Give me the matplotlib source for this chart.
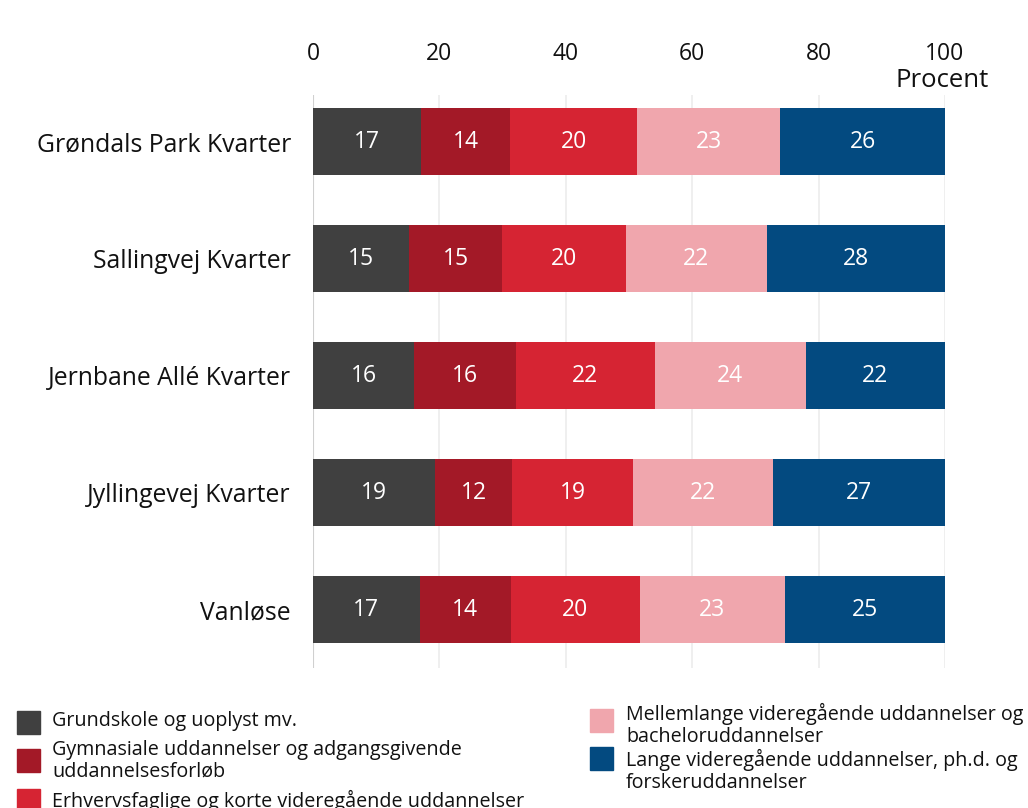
import matplotlib
matplotlib.use("Agg")
import matplotlib.pyplot as plt
from matplotlib.patches import Rectangle
import numpy as np

plt.rcParams['font.family'] = ['Open Sans', 'DejaVu Sans']

categories = ["Grøndals Park Kvarter", "Sallingvej Kvarter", "Jernbane Allé Kvarter",
              "Jyllingevej Kvarter", "Vanløse"]
series_names = ["Grundskole og uoplyst mv.",
                "Gymnasiale uddannelser og adgangsgivende\nuddannelsesforløb",
                "Erhvervsfaglige og korte videregående uddannelser",
                "Mellemlange videregående uddannelser og\nbacheloruddannelser",
                "Lange videregående uddannelser, ph.d. og\nforskeruddannelser"]
grundskole = [17.1, 15.2, 16.0, 19.3, 16.9]
gymnasiale = [14.1, 14.7, 16.1, 12.2, 14.4]
erhverv = [20.1, 19.6, 22.0, 19.1, 20.4]
mellemlange = [22.6, 22.3, 23.9, 22.2, 23.0]
lange = [26.1, 28.2, 22.0, 27.2, 25.3]
labels_shown = [[17, 15, 16, 19, 17],
                [14, 15, 16, 12, 14],
                [20, 20, 22, 19, 20],
                [23, 22, 24, 22, 23],
                [26, 28, 22, 27, 25]]
colors = ["#404040", "#A31927", "#D62433", "#F0A6AD", "#034A80"]
xticks = [0, 20, 40, 60, 80, 100]

fig = plt.figure(figsize=(10.28, 8.08), dpi=100)
ax = fig.add_axes([313/1028, 1-668/808, (945-313)/1028, (668-95)/808])

y = np.arange(len(categories))
left = np.zeros(len(categories))
for vals, lab, col, shown in zip([grundskole, gymnasiale, erhverv, mellemlange, lange],
                                  series_names, colors, labels_shown):
    vals = np.array(vals)
    ax.barh(y, vals, left=left, height=0.57, color=col, zorder=3)
    for yi, l, v, s in zip(y, left, vals, shown):
        ax.text(l + v/2, yi, str(s), ha='center', va='center', color='white',
                fontsize=16.5, zorder=4)
    left += vals

ax.set_xlim(0, 100)
ax.set_ylim(4.5, -0.4)
ax.set_yticks(y)
ax.set_yticklabels(categories, fontsize=17.8, color='#111111')
ax.xaxis.tick_top()
ax.set_xticks(xticks)
ax.set_xticklabels([str(t) for t in xticks], fontsize=16.5, color='#111111')
ax.tick_params(axis='both', length=0)
ax.tick_params(axis='y', pad=16)
ax.tick_params(axis='x', pad=21)
for s in ax.spines.values():
    s.set_visible(False)
for t in xticks[1:]:
    ax.axvline(t, color='#ececec', lw=1.2, zorder=1)
ax.axvline(0, color='#d0d0d0', lw=1.5, zorder=2)
ax.text(99.5, 1.0 + 2/573, "Procent", transform=ax.get_xaxis_transform(),
        ha='center', va='bottom', fontsize=18.5, color='#111111')

# Legend (manual)
W, H = 1028, 808
entries = [
    (17, 722, 52, 721),
    (17, 760, 52, 761),
    (17, 800, 52, 801),
    (590, 720, 626, 725),
    (590, 758, 626, 771),
]
for (px, pcy, tx, tcy), name, col in zip(entries, series_names, colors):
    fig.patches.append(Rectangle((px/W, 1-(pcy+11.5)/H), 23/W, 23/H,
                                 transform=fig.transFigure, color=col))
    fig.text(tx/W, 1-tcy/H, name, ha='left', va='center', fontsize=14.2,
             color='#111111', linespacing=1.1)

fig.savefig("out.png", dpi=100)
